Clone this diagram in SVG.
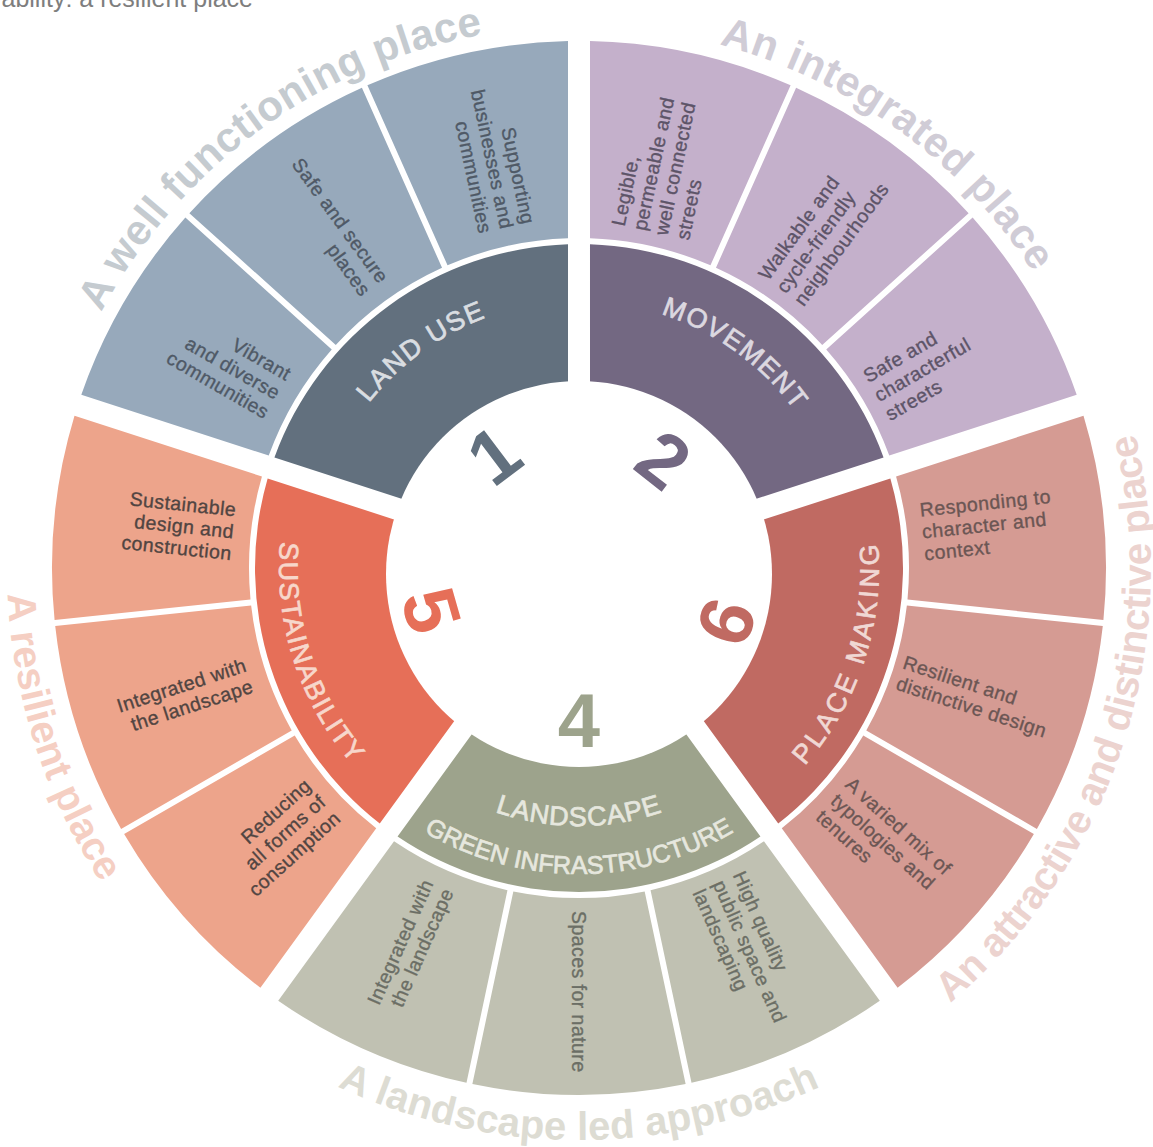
<svg xmlns="http://www.w3.org/2000/svg" width="1153" height="1147" viewBox="0 0 1153 1147">
<style>
  text { font-family: "Liberation Sans", Arial, sans-serif; }
  .cell { font-size: 19.5px; letter-spacing: 0.45px; stroke-width: 0.35px; }
  .ring { font-size: 27px; stroke-width: 0.7px; }
  .outer { font-size: 42px; font-weight: bold; letter-spacing: 0.4px; }
  .outer2 { font-size: 40px; font-weight: bold; }
  .digit { font-size: 76px; font-weight: bold; text-anchor: middle; }
  .lu-t { fill: #4f5966; stroke: #4f5966; } .mv-t { fill: #5d5468; stroke: #5d5468; } .pm-t { fill: #6b5654; stroke: #6b5654; }
  .ls-t { fill: #6b6e65; stroke: #6b6e65; } .su-t { fill: #514542; stroke: #514542; }
</style>
<defs>
  <path id="cellA" d="M480.21 50.34 A527 527 0 0 1 685.63 51.90 L644.67 244.60 A330 330 0 0 0 521.19 243.11 Z"/>
  <path id="cellB" d="M472.37 51.90 A527 527 0 0 1 685.63 51.90 L644.67 244.60 A330 330 0 0 0 513.33 244.60 Z"/>
  <path id="cellC" d="M472.37 51.90 A527 527 0 0 1 677.79 50.34 L636.81 243.11 A330 330 0 0 0 513.33 244.60 Z"/>
  <path id="core" d="M397.56 299.57 A324 324 0 0 1 760.44 299.57 L675.70 416.18 A180 180 0 0 0 482.30 416.18 Z"/>
  <path id="arcOutTop" d="M109.61 297 A542 542 0 0 1 1048.39 297"/>
  <path id="arcOutBot" d="M83.63 854 A572 572 0 0 0 1074.37 854"/>
  <path id="arcRingTop" d="M347.77 434.5 A267 267 0 0 1 810.23 434.5"/>
  <path id="arcRingBot" d="M319.19 718 A300 300 0 0 0 838.81 718"/>
  <path id="arcLand" d="M355.56 697 A258 258 0 0 0 802.44 697"/>
  <path id="arcGreen" d="M314 721 A306 306 0 0 0 844 721"/>
</defs>
<rect width="1153" height="1147" fill="#ffffff"/>
<text x="253" y="7" text-anchor="end" font-size="25" fill="#7e7e7e">ability: a resilient place</text>

<g id="land-use">
  <use href="#core" fill="#62707e" transform="rotate(-36 579 568)"/>
  <text class="ring" fill="#d9dde1" stroke="#d9dde1" style="letter-spacing:1.6px" transform="rotate(-36 579 568)"><textPath href="#arcRingTop" startOffset="50%" text-anchor="middle">LAND USE</textPath></text>
  <g id="lu-vibrant">
    <use href="#cellA" fill="#97a9bb" transform="rotate(-60 579 568)"/>
    <text class="cell lu-t" text-anchor="end" transform="rotate(-60 579 568) translate(579 221) rotate(90)"><tspan x="0" y="-15.35">Vibrant</tspan><tspan x="0" y="6.65">and diverse</tspan><tspan x="0" y="28.65">communities</tspan></text>
  </g>
  <g id="lu-safe">
    <use href="#cellB" fill="#97a9bb" transform="rotate(-36 579 568)"/>
    <text class="cell lu-t" text-anchor="end" transform="rotate(-36 579 568) translate(579 221) rotate(90)"><tspan x="0" y="-4.35">Safe and secure</tspan><tspan x="0" y="17.65">places</tspan></text>
  </g>
  <g id="lu-supporting">
    <use href="#cellC" fill="#97a9bb" transform="rotate(-12 579 568)"/>
    <text class="cell lu-t" text-anchor="end" transform="rotate(-12 579 568) translate(579 221) rotate(90)"><tspan x="0" y="-15.35">Supporting</tspan><tspan x="0" y="6.65">businesses and</tspan><tspan x="0" y="28.65">communities</tspan></text>
  </g>
</g>

<g id="movement">
  <use href="#core" fill="#736882" transform="rotate(36 579 568)"/>
  <text class="ring" fill="#dcd8e0" stroke="#dcd8e0" style="letter-spacing:1.6px" transform="rotate(36 579 568)"><textPath href="#arcRingTop" startOffset="50%" text-anchor="middle">MOVEMENT</textPath></text>
  <g id="mv-legible">
    <use href="#cellA" fill="#c4b0cb" transform="rotate(12 579 568)"/>
    <text class="cell mv-t" transform="rotate(12 579 568) translate(579 225) rotate(-90)"><tspan x="0" y="-26.35">Legible,</tspan><tspan x="0" y="-4.35">permeable and</tspan><tspan x="0" y="17.65">well connected</tspan><tspan x="0" y="39.65">streets</tspan></text>
  </g>
  <g id="mv-walkable">
    <use href="#cellB" fill="#c4b0cb" transform="rotate(36 579 568)"/>
    <text class="cell mv-t" transform="rotate(36 579 568) translate(579 225) rotate(-90)"><tspan x="0" y="-15.35">Walkable and</tspan><tspan x="0" y="6.65">cycle-friendly</tspan><tspan x="0" y="28.65">neighbourhoods</tspan></text>
  </g>
  <g id="mv-safe">
    <use href="#cellC" fill="#c4b0cb" transform="rotate(60 579 568)"/>
    <text class="cell mv-t" transform="rotate(60 579 568) translate(579 225) rotate(-90)"><tspan x="0" y="-15.35">Safe and</tspan><tspan x="0" y="6.65">characterful</tspan><tspan x="0" y="28.65">streets</tspan></text>
  </g>
</g>

<g id="place-making">
  <use href="#core" fill="#c06a62" transform="rotate(108 579 568)"/>
  <text class="ring" fill="#f0d8d4" stroke="#f0d8d4" style="letter-spacing:3.4px" transform="rotate(-72 579 568)"><textPath href="#arcRingBot" startOffset="50%" text-anchor="middle">PLACE MAKING</textPath></text>
  <g id="pm-responding">
    <use href="#cellA" fill="#d59b93" transform="rotate(84 579 568)"/>
    <text class="cell pm-t" transform="rotate(84 579 568) translate(579 223) rotate(-90)"><tspan x="0" y="-15.35">Responding to</tspan><tspan x="0" y="6.65">character and</tspan><tspan x="0" y="28.65">context</tspan></text>
  </g>
  <g id="pm-resilient">
    <use href="#cellB" fill="#d59b93" transform="rotate(108 579 568)"/>
    <text class="cell pm-t" transform="rotate(108 579 568) translate(579 230) rotate(-90)"><tspan x="0" y="-4.35">Resilient and</tspan><tspan x="0" y="17.65">distinctive design</tspan></text>
  </g>
  <g id="pm-varied">
    <use href="#cellC" fill="#d59b93" transform="rotate(132 579 568)"/>
    <text class="cell pm-t" transform="rotate(132 579 568) translate(579 225) rotate(-90)"><tspan x="0" y="-15.35">A varied mix of</tspan><tspan x="0" y="6.65">typologies and</tspan><tspan x="0" y="28.65">tenures</tspan></text>
  </g>
</g>

<g id="landscape">
  <use href="#core" fill="#9da38c" transform="rotate(180 579 568)"/>
  <text class="ring" fill="#e6e7de" stroke="#e6e7de" style="letter-spacing:0.8px"><textPath href="#arcLand" startOffset="50%" text-anchor="middle">LANDSCAPE</textPath></text>
  <text class="ring" fill="#e6e7de" stroke="#e6e7de" style="font-size:25px;letter-spacing:0px"><textPath href="#arcGreen" startOffset="50%" text-anchor="middle">GREEN INFRASTRUCTURE</textPath></text>
  <g id="ls-high">
    <use href="#cellA" fill="#c0c1b2" transform="rotate(156 579 568)"/>
    <text class="cell ls-t" transform="rotate(156 579 568) translate(579 225) rotate(-90)"><tspan x="0" y="-15.35">High quality</tspan><tspan x="0" y="6.65">public space and</tspan><tspan x="0" y="28.65">landscaping</tspan></text>
  </g>
  <g id="ls-spaces">
    <use href="#cellB" fill="#c0c1b2" transform="rotate(180 579 568)"/>
    <text class="cell ls-t" transform="rotate(180 579 568) translate(579 225) rotate(-90)"><tspan x="0" y="6.65">Spaces for nature</tspan></text>
  </g>
  <g id="ls-integrated">
    <use href="#cellC" fill="#c0c1b2" transform="rotate(204 579 568)"/>
    <text class="cell ls-t" text-anchor="end" transform="rotate(204 579 568) translate(579 221) rotate(90)"><tspan x="0" y="-4.35">Integrated with</tspan><tspan x="0" y="17.65">the landscape</tspan></text>
  </g>
</g>

<g id="sustainability">
  <use href="#core" fill="#e66f58" transform="rotate(252 579 568)"/>
  <text class="ring" fill="#f7d7cb" stroke="#f7d7cb" style="letter-spacing:1.8px" transform="rotate(72 579 568)"><textPath href="#arcRingBot" startOffset="50%" text-anchor="middle">SUSTAINABILITY</textPath></text>
  <g id="su-reducing">
    <use href="#cellA" fill="#eda48b" transform="rotate(228 579 568)"/>
    <text class="cell su-t" text-anchor="end" transform="rotate(228 579 568) translate(579 223) rotate(90)"><tspan x="0" y="-15.35">Reducing</tspan><tspan x="0" y="6.65">all forms of</tspan><tspan x="0" y="28.65">consumption</tspan></text>
  </g>
  <g id="su-integrated">
    <use href="#cellB" fill="#eda48b" transform="rotate(252 579 568)"/>
    <text class="cell su-t" text-anchor="end" transform="rotate(252 579 568) translate(579 221) rotate(90)"><tspan x="0" y="-4.35">Integrated with</tspan><tspan x="0" y="17.65">the landscape</tspan></text>
  </g>
  <g id="su-sustainable">
    <use href="#cellC" fill="#eda48b" transform="rotate(276 579 568)"/>
    <text class="cell su-t" text-anchor="end" transform="rotate(276 579 568) translate(579 221) rotate(90)"><tspan x="0" y="-15.35">Sustainable</tspan><tspan x="0" y="6.65">design and</tspan><tspan x="0" y="28.65">construction</tspan></text>
  </g>
</g>

<g id="hub">
  <circle cx="579" cy="574" r="193" fill="#ffffff"/>
  <text class="digit" fill="#62707e" x="579" y="453" transform="rotate(-37 579 568)">1</text>
  <text class="digit" fill="#736882" x="579" y="457" transform="rotate(38 579 568)">2</text>
  <text class="digit" fill="#c06a62" x="579" y="751" transform="rotate(-70 579 568)">6</text>
  <text class="digit" fill="#9da38c" x="579" y="747">4</text>
  <text class="digit" fill="#e66f58" x="579" y="748" transform="rotate(74 579 568)">5</text>
</g>

<g id="outer-labels">
  <text class="outer" fill="#c5cbd0" transform="rotate(-36 579 568)"><textPath href="#arcOutTop" startOffset="50%" text-anchor="middle">A well functioning place</textPath></text>
  <text class="outer" fill="#d0ccd6" transform="rotate(36 579 568)"><textPath href="#arcOutTop" startOffset="50%" text-anchor="middle">An integrated place</textPath></text>
  <text class="outer2" fill="#ecd3cf" style="letter-spacing:-0.5px" transform="rotate(-72 579 568)"><textPath href="#arcOutBot" startOffset="50%" text-anchor="middle">An attractive and distinctive place</textPath></text>
  <text class="outer2" fill="#dddcd3" style="letter-spacing:0.2px"><textPath href="#arcOutBot" startOffset="50%" text-anchor="middle">A landscape led approach</textPath></text>
  <text class="outer2" fill="#f5cfc3" style="letter-spacing:0.1px" transform="rotate(72 579 568)"><textPath href="#arcOutBot" startOffset="50%" text-anchor="middle">A resilient place</textPath></text>
</g>
</svg>
